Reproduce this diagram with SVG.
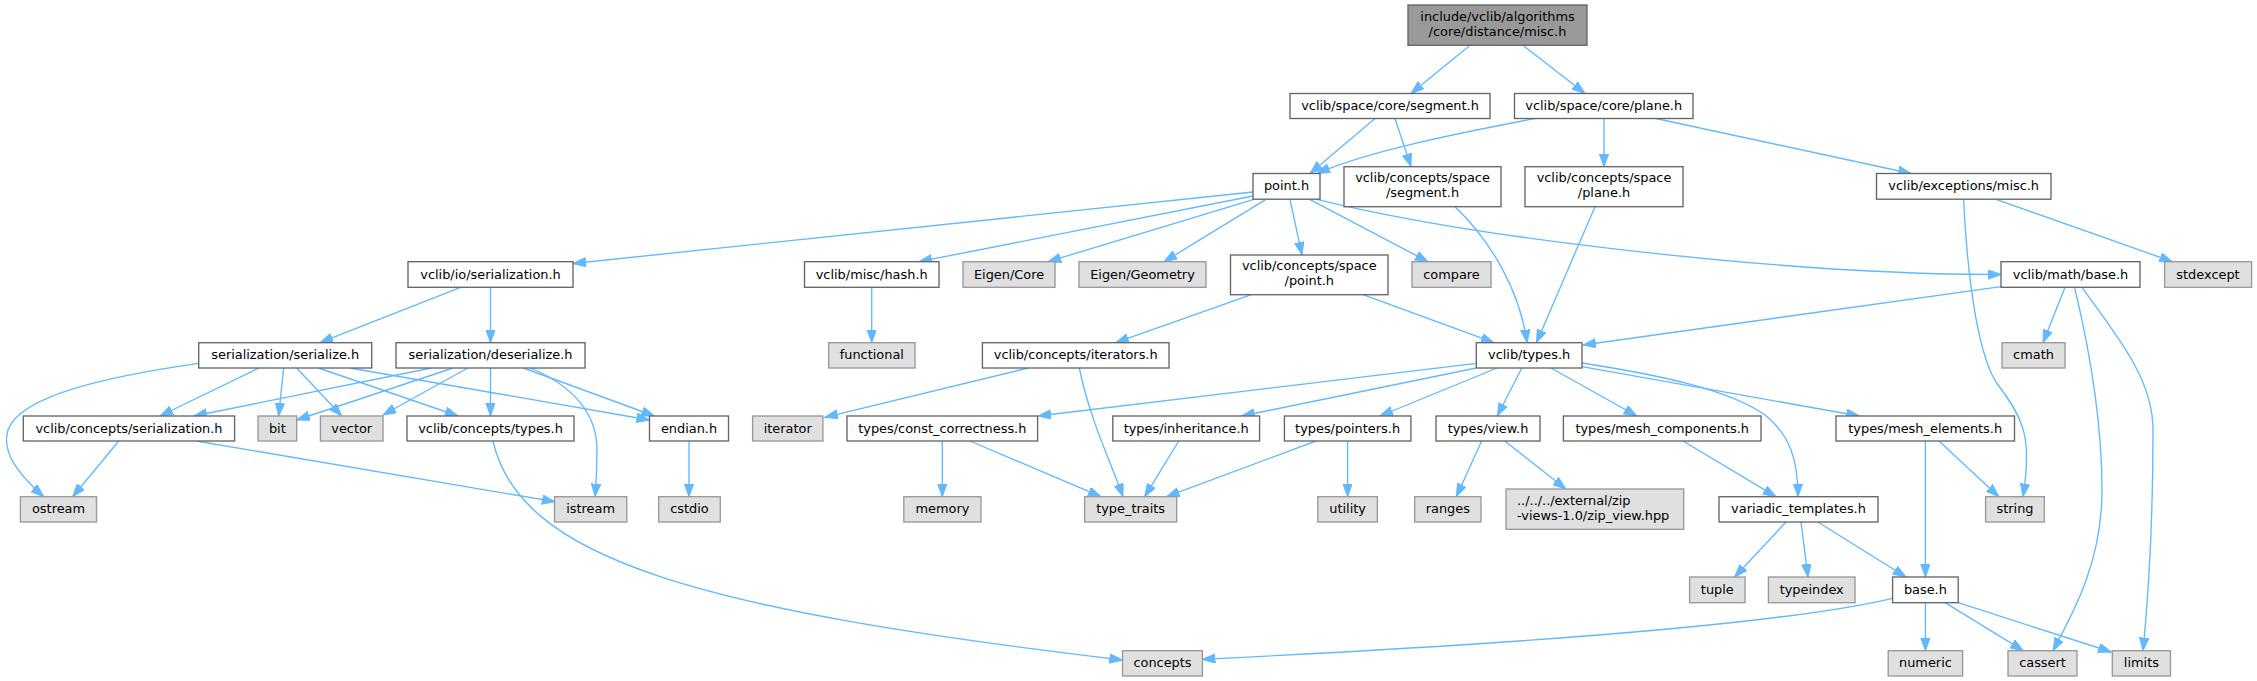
<svg xmlns="http://www.w3.org/2000/svg" width="2257" height="681" viewBox="0 0 2257 681">
<defs>
<marker id="arr" markerUnits="userSpaceOnUse" markerWidth="14" markerHeight="10" refX="13" refY="4.7" orient="auto">
<path d="M0,0 L13,4.7 L0,9.4 z" fill="#63b8ff" stroke="#63b8ff" stroke-width="1"/>
</marker>
<style>
.n rect{fill:#ffffff;stroke:#666666;stroke-width:1.35}
.g rect{fill:#e0e0e0;stroke:#999999;stroke-width:1.35}
.m rect{fill:#999999;stroke:#666666;stroke-width:1.35}
text{font-family:"DejaVu Sans","Liberation Sans",sans-serif;font-size:12.9px;fill:#000000;text-anchor:middle}
.e path{fill:none;stroke:#63b8ff;stroke-width:1.35;marker-end:url(#arr)}
</style>
</defs>
<rect x="0" y="0" width="2257" height="681" fill="#ffffff"/>
<g class="e" id="edges">
<path d="M1470,45.3 L1411,93.5"/>
<path d="M1523,45.3 L1585,93.5"/>
<path d="M1375,118.5 L1310,173.5"/>
<path d="M1395,118.5 L1411,166.7"/>
<path d="M1535,118.5 C1470,131 1370,150 1317,173.5"/>
<path d="M1604,118.5 L1604,166.7"/>
<path d="M1656,118.5 L1911,173.5"/>
<path d="M1253,192 L573,263.5"/>
<path d="M1253,196 L919,261.7"/>
<path d="M1254,199.3 L1048,261.7"/>
<path d="M1266,199.3 L1164,261.7"/>
<path d="M1290,199.3 L1302,255"/>
<path d="M1309.6,199.3 L1428,261.7"/>
<path d="M1317,199.3 C1480,240 1800,275 2001,274.5"/>
<path d="M1455,206.7 C1490,240 1520,290 1527,342.7"/>
<path d="M1595,206.7 L1536.5,342.7"/>
<path d="M1996,199.3 L2172.5,261.7"/>
<path d="M1963.6,199.3 C1968,290 1980,360 1998,385 C2025,420 2032,440 2023,496.7"/>
<path d="M2001,286.7 L1583,345"/>
<path d="M2065,287.3 L2043,342.7"/>
<path d="M2074.6,287.3 C2092,360 2102,430 2102,490 C2102,560 2075,610 2053,650.7"/>
<path d="M2082,287.3 C2120,340 2153,380 2153,430 C2153,520 2148,600 2143,650.7"/>
<path d="M460.5,287.3 L320,342.7"/>
<path d="M490.5,287.3 L490.5,342.7"/>
<path d="M198.7,363.3 C110,376 20,395 8,430 C0,455 25,480 43.6,496.7"/>
<path d="M259.3,368 L160,416"/>
<path d="M283.6,368 L278.7,416"/>
<path d="M296.7,368 L341.7,416"/>
<path d="M318.5,368 L458,416"/>
<path d="M350,368 L649.5,420"/>
<path d="M431.4,368 L194,416"/>
<path d="M453,368 L296.7,420"/>
<path d="M467.8,368 L383,415"/>
<path d="M490.5,368 L490.5,416"/>
<path d="M523.5,368 L654.4,416"/>
<path d="M530.8,368 C570,385 597,410 597,450 C597,470 596,485 595,496.7"/>
<path d="M118.8,441 L72.7,496.7"/>
<path d="M196.3,441 L555,501.7"/>
<path d="M493,441 C520,560 700,610 1122.5,660"/>
<path d="M689,441 L689,496.7"/>
<path d="M871.7,287.3 L871.7,342.7"/>
<path d="M1251.4,294.7 L1115.7,342.7"/>
<path d="M1363,294.7 L1494,342.7"/>
<path d="M1028.4,368 L824.8,417.3"/>
<path d="M1079.3,368 C1090,420 1110,460 1123,496.7"/>
<path d="M1476.3,363.3 L1038,416"/>
<path d="M1476.3,368 L1241.7,416"/>
<path d="M1497,368 L1380,416"/>
<path d="M1521.8,368 L1497.3,416"/>
<path d="M1551,368 L1636.8,416"/>
<path d="M1582,363 C1660,375 1730,390 1765,415 C1790,435 1798,460 1798,496.7"/>
<path d="M1582,366.7 L1859.4,416"/>
<path d="M942.3,441 L942.3,496.7"/>
<path d="M970,441 L1101,496.7"/>
<path d="M1178.7,441 L1144.7,496.7"/>
<path d="M1316,441 L1166.6,496.7"/>
<path d="M1347.6,441 L1347.6,496.7"/>
<path d="M1481.6,441 L1456.4,496.7"/>
<path d="M1504.7,441 L1565.8,489"/>
<path d="M1683,441 L1776,496.7"/>
<path d="M1925.4,441 L1925.4,577"/>
<path d="M1939,441 L1998.8,496.7"/>
<path d="M1786,522 L1734.6,577"/>
<path d="M1801,522 L1808,577"/>
<path d="M1817.8,522 L1906,577"/>
<path d="M1892.6,598.3 C1780,625 1500,645 1202.4,659.3"/>
<path d="M1925.4,602.7 L1925.4,650.7"/>
<path d="M1945,602.7 L2023.3,650.7"/>
<path d="M1958.2,602.7 L2111.3,652"/>
</g>
<g id="main" class="m"><rect x="1408" y="5" width="179" height="40.3"/><text x="1497.5" y="20.5">include/vclib/algorithms</text><text x="1497.5" y="35.6">/core/distance/misc.h</text></g>
<g id="seg" class="n"><rect x="1290" y="93.5" width="200" height="25"/><text x="1390" y="110">vclib/space/core/segment.h</text></g>
<g id="plane" class="n"><rect x="1514.5" y="93.5" width="178.5" height="25"/><text x="1603.7" y="110">vclib/space/core/plane.h</text></g>
<g id="point" class="n"><rect x="1253" y="173.5" width="67" height="25.7"/><text x="1286.5" y="190.4">point.h</text></g>
<g id="cseg" class="n"><rect x="1344" y="166.7" width="157" height="40"/><text x="1422.5" y="182.2">vclib/concepts/space</text><text x="1422.5" y="197.2">/segment.h</text></g>
<g id="cplane" class="n"><rect x="1525" y="166.7" width="158" height="40"/><text x="1604" y="182.2">vclib/concepts/space</text><text x="1604" y="197.2">/plane.h</text></g>
<g id="exc" class="n"><rect x="1876.5" y="173.5" width="174.5" height="25.7"/><text x="1963.7" y="190.4">vclib/exceptions/misc.h</text></g>
<g id="ioser" class="n"><rect x="408" y="261.7" width="165" height="25.6"/><text x="490.5" y="278.5">vclib/io/serialization.h</text></g>
<g id="hash" class="n"><rect x="804.5" y="261.7" width="134.5" height="25.6"/><text x="871.7" y="278.5">vclib/misc/hash.h</text></g>
<g id="eigencore" class="g"><rect x="963" y="261.7" width="92" height="25.6"/><text x="1009" y="278.5">Eigen/Core</text></g>
<g id="eigengeo" class="g"><rect x="1079" y="261.7" width="127" height="25.6"/><text x="1142.5" y="278.5">Eigen/Geometry</text></g>
<g id="cpoint" class="n"><rect x="1230.5" y="255" width="157.5" height="39.7"/><text x="1309.3" y="270.3">vclib/concepts/space</text><text x="1309.3" y="285.3">/point.h</text></g>
<g id="compare" class="g"><rect x="1412" y="261.7" width="79" height="25.6"/><text x="1451.5" y="278.5">compare</text></g>
<g id="mathbase" class="n"><rect x="2001" y="261.7" width="139" height="25.6"/><text x="2070.5" y="278.5">vclib/math/base.h</text></g>
<g id="stdexcept" class="g"><rect x="2164.6" y="261.7" width="87" height="25.6"/><text x="2208" y="278.5">stdexcept</text></g>
<g id="serialize" class="n"><rect x="198.7" y="342.7" width="173" height="25.3"/><text x="285.2" y="359.4">serialization/serialize.h</text></g>
<g id="deserialize" class="n"><rect x="396" y="342.7" width="189" height="25.3"/><text x="490.5" y="359.4">serialization/deserialize.h</text></g>
<g id="functional" class="g"><rect x="828.7" y="342.7" width="86.3" height="25.3"/><text x="871.8" y="359.4">functional</text></g>
<g id="iterators" class="n"><rect x="982.4" y="342.7" width="186.6" height="25.3"/><text x="1075.7" y="359.4">vclib/concepts/iterators.h</text></g>
<g id="types" class="n"><rect x="1476.3" y="342.7" width="105.7" height="25.3"/><text x="1529.1" y="359.4">vclib/types.h</text></g>
<g id="cmath" class="g"><rect x="2002" y="342.7" width="63" height="25.3"/><text x="2033.5" y="359.4">cmath</text></g>
<g id="cser" class="n"><rect x="23.3" y="416" width="211.3" height="25"/><text x="129" y="432.5">vclib/concepts/serialization.h</text></g>
<g id="bit" class="g"><rect x="258" y="416" width="38.7" height="25"/><text x="277.3" y="432.5">bit</text></g>
<g id="vector" class="g"><rect x="320.4" y="416" width="62.6" height="25"/><text x="351.7" y="432.5">vector</text></g>
<g id="ctypes" class="n"><rect x="407" y="416" width="167" height="25"/><text x="490.5" y="432.5">vclib/concepts/types.h</text></g>
<g id="endian" class="n"><rect x="649.5" y="416" width="79" height="25"/><text x="689" y="432.5">endian.h</text></g>
<g id="iterator" class="g"><rect x="752.6" y="416" width="70.3" height="25"/><text x="787.7" y="432.5">iterator</text></g>
<g id="constcorr" class="n"><rect x="847" y="416" width="190.6" height="25"/><text x="942.3" y="432.5">types/const_correctness.h</text></g>
<g id="inherit" class="n"><rect x="1112.8" y="416" width="146.8" height="25"/><text x="1186.2" y="432.5">types/inheritance.h</text></g>
<g id="pointers" class="n"><rect x="1284.4" y="416" width="126.5" height="25"/><text x="1347.6" y="432.5">types/pointers.h</text></g>
<g id="view" class="n"><rect x="1436" y="416" width="104" height="25"/><text x="1488" y="432.5">types/view.h</text></g>
<g id="meshcomp" class="n"><rect x="1563.4" y="416" width="197.6" height="25"/><text x="1662.2" y="432.5">types/mesh_components.h</text></g>
<g id="meshel" class="n"><rect x="1836" y="416" width="178.5" height="25"/><text x="1925.2" y="432.5">types/mesh_elements.h</text></g>
<g id="ostream" class="g"><rect x="20.4" y="496.7" width="76.1" height="25.3"/><text x="58.5" y="513.4">ostream</text></g>
<g id="istream" class="g"><rect x="554.5" y="496.7" width="72.3" height="25.3"/><text x="590.6" y="513.4">istream</text></g>
<g id="cstdio" class="g"><rect x="658.7" y="496.7" width="61.6" height="25.3"/><text x="689.5" y="513.4">cstdio</text></g>
<g id="memory" class="g"><rect x="903.8" y="496.7" width="77.2" height="25.3"/><text x="942.4" y="513.4">memory</text></g>
<g id="type_traits" class="g"><rect x="1084.6" y="496.7" width="92.1" height="25.3"/><text x="1130.6" y="513.4">type_traits</text></g>
<g id="utility" class="g"><rect x="1317.8" y="496.7" width="59.6" height="25.3"/><text x="1347.6" y="513.4">utility</text></g>
<g id="ranges" class="g"><rect x="1414.7" y="496.7" width="66.3" height="25.3"/><text x="1447.8" y="513.4">ranges</text></g>
<g id="zipview" class="g"><rect x="1506" y="489" width="177.7" height="40.3"/><text x="1517" y="504.5" style="text-anchor:start">../../../external/zip</text><text x="1517" y="519.6" style="text-anchor:start">-views-1.0/zip_view.hpp</text></g>
<g id="variadic" class="n"><rect x="1719" y="496.7" width="159" height="25.3"/><text x="1798.5" y="513.4">variadic_templates.h</text></g>
<g id="string" class="g"><rect x="1985.6" y="496.7" width="58.7" height="25.3"/><text x="2015" y="513.4">string</text></g>
<g id="tuple" class="g"><rect x="1689.6" y="577" width="55.4" height="25.7"/><text x="1717.3" y="593.9">tuple</text></g>
<g id="typeindex" class="g"><rect x="1768.4" y="577" width="86.6" height="25.7"/><text x="1811.7" y="593.9">typeindex</text></g>
<g id="base" class="n"><rect x="1892.6" y="577" width="65.6" height="25.7"/><text x="1925.4" y="593.9">base.h</text></g>
<g id="concepts" class="g"><rect x="1122.5" y="650.7" width="79.9" height="25.3"/><text x="1162.5" y="667.4">concepts</text></g>
<g id="numeric" class="g"><rect x="1888.2" y="650.7" width="74.4" height="25.3"/><text x="1925.4" y="667.4">numeric</text></g>
<g id="cassert" class="g"><rect x="2008" y="650.7" width="69" height="25.3"/><text x="2042.5" y="667.4">cassert</text></g>
<g id="limits" class="g"><rect x="2112.3" y="650.7" width="58.2" height="25.3"/><text x="2141.4" y="667.4">limits</text></g>
</svg>
